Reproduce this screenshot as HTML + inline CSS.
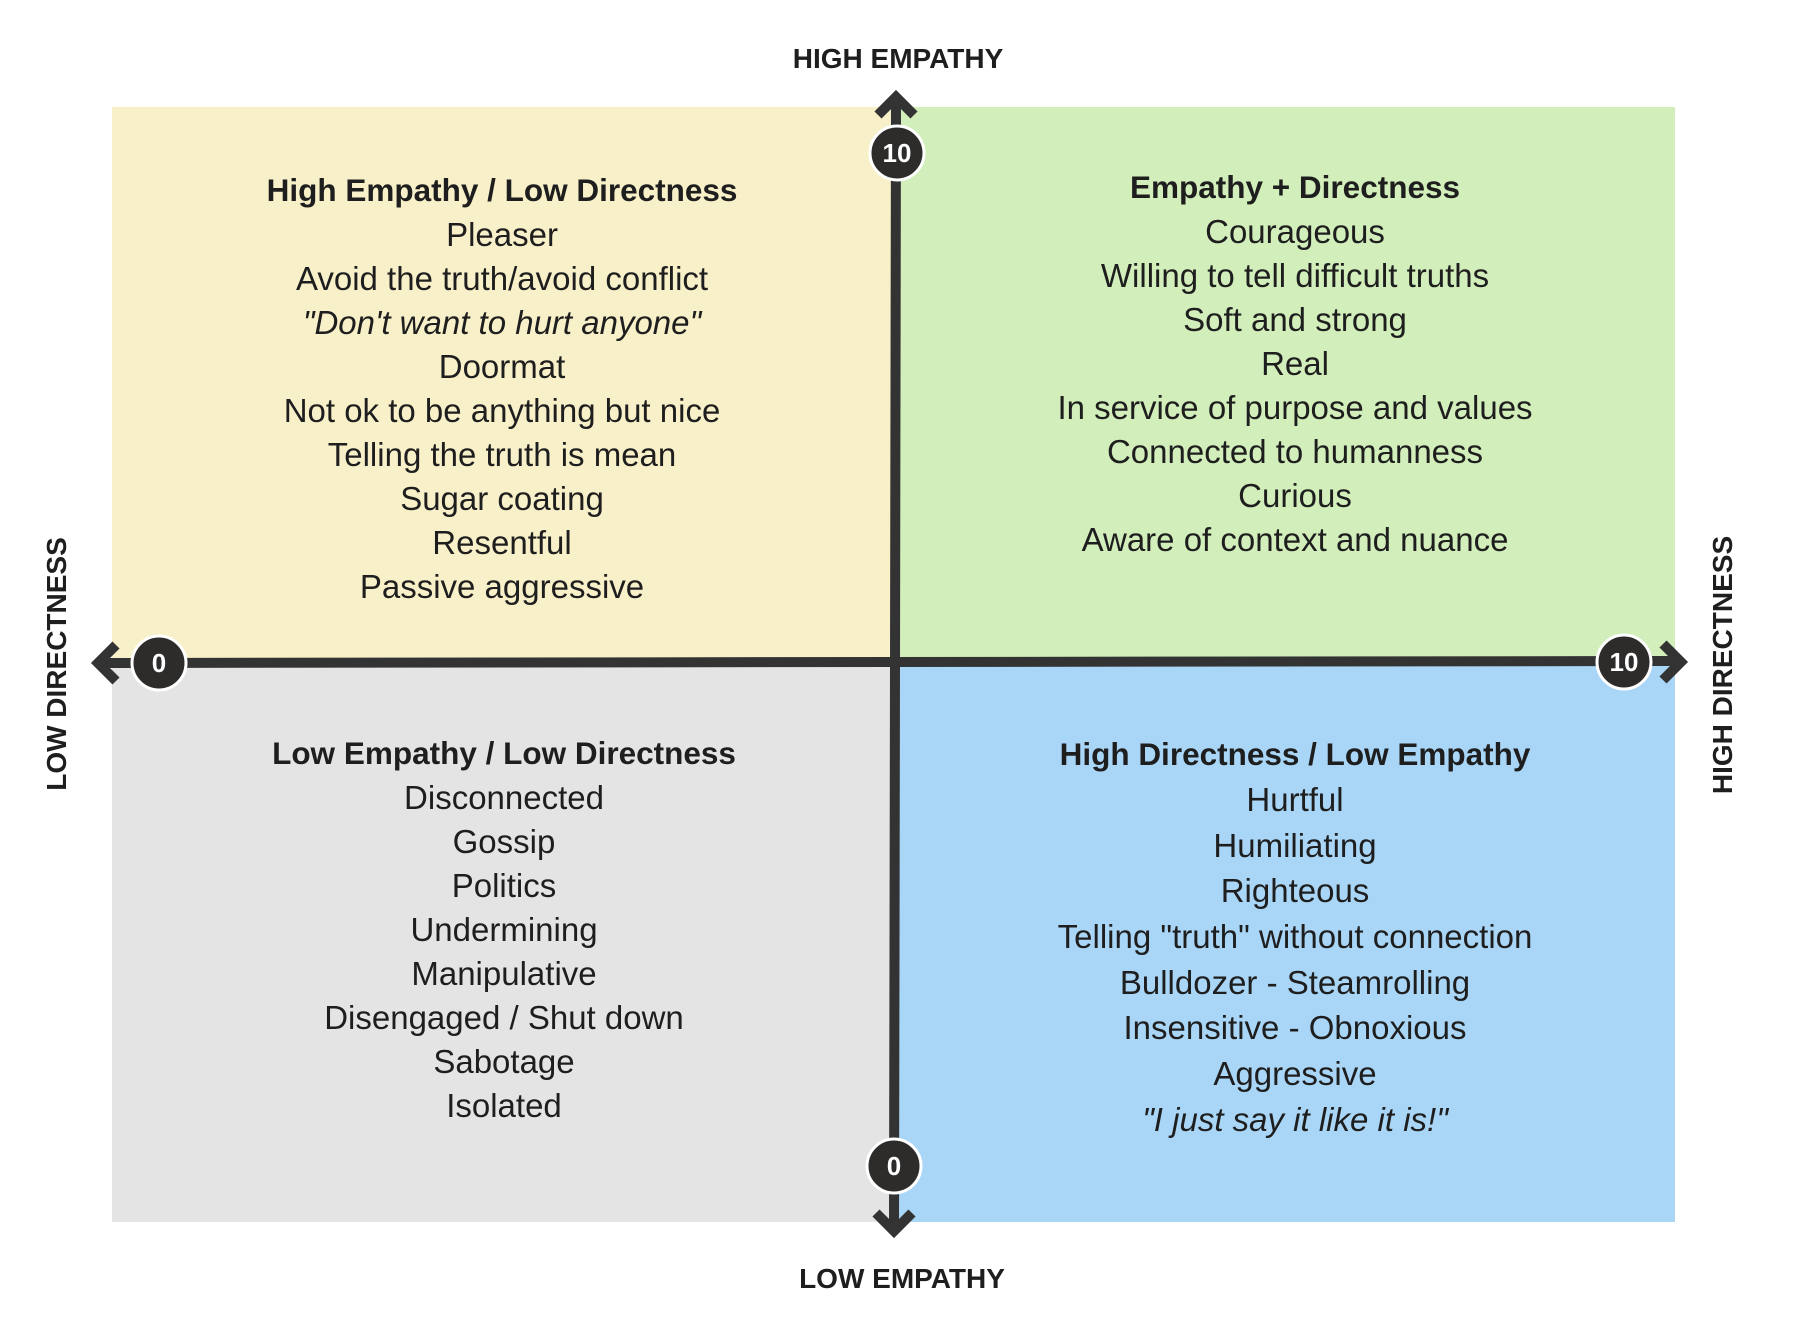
<!DOCTYPE html>
<html><head><meta charset="utf-8"><style>
html,body{margin:0;padding:0;background:#fff;}
svg{display:block;}
text{font-family:"Liberation Sans",sans-serif;fill:#1e1e1e;}
.h{font-weight:bold;font-size:31.5px;}
.i{font-size:33px;}
.ax{font-weight:bold;font-size:28px;}
.n{font-weight:bold;font-size:26px;fill:#fff;}
</style></head><body>
<svg width="1800" height="1324" viewBox="0 0 1800 1324" xmlns="http://www.w3.org/2000/svg">
<rect x="112" y="107" width="784" height="556" fill="#f8f0c9"/>
<rect x="896" y="107" width="779" height="556" fill="#d2eebb"/>
<rect x="112" y="663" width="784" height="559" fill="#e4e4e4"/>
<rect x="896" y="663" width="779" height="559" fill="#a9d6f6"/>

<g stroke="#333" stroke-width="10" fill="none">
<line x1="896" y1="100" x2="894" y2="1228"/>
<line x1="100" y1="663" x2="1680" y2="661"/>
<polyline points="878,115 896,97 914,115" stroke-linejoin="miter"/>
<polyline points="876,1213 894,1231 912,1213"/>
<polyline points="116,645 98,663 116,681"/>
<polyline points="1663,644 1681,662 1663,680"/>
</g>
<g fill="#2e2c2b" stroke="#fff" stroke-width="3">
<circle cx="897" cy="153" r="27"/>
<circle cx="894" cy="1166" r="27"/>
<circle cx="159" cy="663" r="27"/>
<circle cx="1624" cy="662" r="27"/>
</g>
<g text-anchor="middle">
<text class="n" x="897" y="162">10</text>
<text class="n" x="894" y="1175">0</text>
<text class="n" x="159" y="672">0</text>
<text class="n" x="1624" y="671">10</text>

<text class="ax" x="898" y="68">HIGH EMPATHY</text>
<text class="ax" x="902" y="1288">LOW EMPATHY</text>
<text class="ax" transform="translate(66,664) rotate(-90)">LOW DIRECTNESS</text>
<text class="ax" transform="translate(1732,665) rotate(-90)">HIGH DIRECTNESS</text>

<g transform="translate(502,-1)">
<text class="h" x="0" y="202">High Empathy / Low Directness</text>
<text class="i" x="0" y="247">Pleaser</text>
<text class="i" x="0" y="291">Avoid the truth/avoid conflict</text>
<text class="i" x="0" y="335" font-style="italic">"Don't want to hurt anyone"</text>
<text class="i" x="0" y="379">Doormat</text>
<text class="i" x="0" y="423">Not ok to be anything but nice</text>
<text class="i" x="0" y="467">Telling the truth is mean</text>
<text class="i" x="0" y="511">Sugar coating</text>
<text class="i" x="0" y="555">Resentful</text>
<text class="i" x="0" y="599">Passive aggressive</text>
</g>
<g transform="translate(1295,-2)">
<text class="h" x="0" y="200">Empathy + Directness</text>
<text class="i" x="0" y="245">Courageous</text>
<text class="i" x="0" y="289">Willing to tell difficult truths</text>
<text class="i" x="0" y="333">Soft and strong</text>
<text class="i" x="0" y="377">Real</text>
<text class="i" x="0" y="421">In service of purpose and values</text>
<text class="i" x="0" y="465">Connected to humanness</text>
<text class="i" x="0" y="509">Curious</text>
<text class="i" x="0" y="553">Aware of context and nuance</text>
</g>
<g transform="translate(504,-7)">
<text class="h" x="0" y="771">Low Empathy / Low Directness</text>
<text class="i" x="0" y="816">Disconnected</text>
<text class="i" x="0" y="860">Gossip</text>
<text class="i" x="0" y="904">Politics</text>
<text class="i" x="0" y="948">Undermining</text>
<text class="i" x="0" y="992">Manipulative</text>
<text class="i" x="0" y="1036">Disengaged / Shut down</text>
<text class="i" x="0" y="1080">Sabotage</text>
<text class="i" x="0" y="1124">Isolated</text>
</g>
<g transform="translate(1295,-9)">
<text class="h" x="0" y="774">High Directness / Low Empathy</text>
<text class="i" x="0" y="820">Hurtful</text>
<text class="i" x="0" y="866">Humiliating</text>
<text class="i" x="0" y="911">Righteous</text>
<text class="i" x="0" y="957">Telling "truth" without connection</text>
<text class="i" x="0" y="1003">Bulldozer - Steamrolling</text>
<text class="i" x="0" y="1048">Insensitive - Obnoxious</text>
<text class="i" x="0" y="1094">Aggressive</text>
<text class="i" x="0" y="1140" font-style="italic">"I just say it like it is!"</text>
</g>
</g>
</svg>
</body></html>
